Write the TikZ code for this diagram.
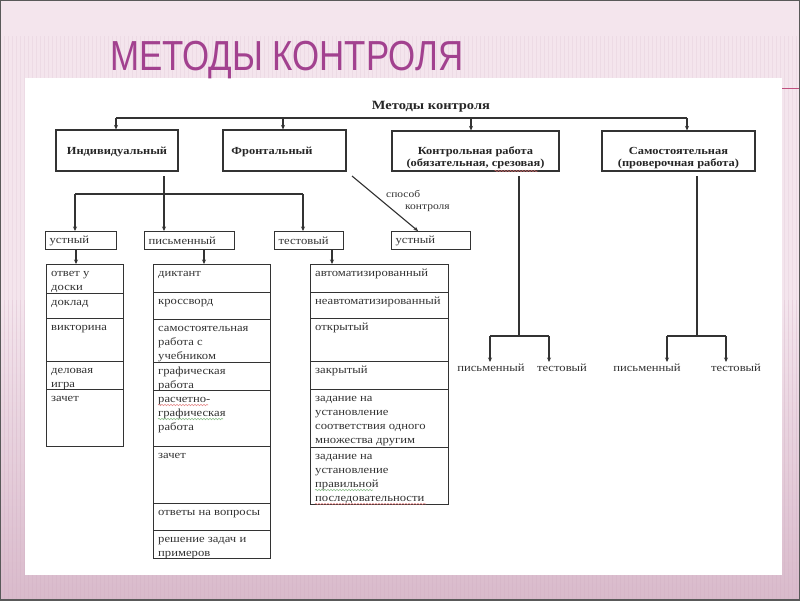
\documentclass[tikz,border=0pt]{standalone}
\usepackage{fontspec}
\setmainfont{Liberation Serif}
\newfontfamily\cellfont[FakeStretch=1.15]{Liberation Serif}
\newfontfamily\titlefont[FakeStretch=0.83]{Liberation Sans}
\usetikzlibrary{arrows.meta,decorations.pathmorphing}
\definecolor{bgpink}{HTML}{F4E5ED}
\definecolor{bandpink}{HTML}{D9BACB}
\definecolor{stripecol}{HTML}{D2AFC3}
\definecolor{titlecol}{HTML}{A2418F}
\definecolor{linecol}{HTML}{333333}
\definecolor{redline}{HTML}{C0507F}
\definecolor{spellred}{HTML}{E07070}
\definecolor{spellgreen}{HTML}{70B070}
\newcommand\mycell[6]{%
  \node[cell,minimum width=#4,minimum height=#5] (#1) at (#2,#3) {};
  \node[ctext] (#1t) at ([xshift=5pt,yshift=-2pt]#1.north west) {\strut #6};}
\begin{document}
\begin{tikzpicture}[x=1pt,y=-1pt,
  ln/.style={draw=linecol,line width=1.15pt},
  arr/.style={ln,-{Stealth[length=4.5pt,width=4pt]}},
  bigbox/.style={draw=linecol,line width=1.15pt,inner sep=0pt},
  btext/.style={font=\cellfont\bfseries\fontsize{10.8}{11.5}\selectfont,align=center,inner sep=0pt,text=black!85},
  sbox/.style={draw=linecol,line width=1.15pt,anchor=north west,minimum height=18pt,inner xsep=4pt,inner ysep=0pt,align=left,font=\cellfont\fontsize{11}{13}\selectfont,text=black!80},
  cell/.style={draw=linecol,line width=1.15pt,anchor=north west,inner sep=0pt},
  ctext/.style={anchor=north west,inner sep=0pt,align=left,font=\cellfont\fontsize{11}{14}\selectfont,text=black!80},
  ltext/.style={inner sep=2pt,font=\cellfont\fontsize{11}{14}\selectfont,text=black!80},
  spell/.style={line width=0.6pt,opacity=0.8,decorate,decoration={snake,amplitude=0.7pt,segment length=3pt}}
]
\useasboundingbox (0,0) rectangle (800,600);
% background
\fill[bgpink] (0,0) rectangle (800,600);
\shade[top color=bgpink,bottom color=bandpink] (0,300) rectangle (800,600);
\foreach \x in {0,4,...,800} {
  \draw[stripecol,opacity=0.18,line width=0.8pt] (\x,36) -- (\x,300);
  \draw[stripecol,opacity=0.35,line width=0.8pt] (\x,300) -- (\x,600);
}
\fill[white] (25,78) rectangle (782,575);
\draw[redline,line width=1pt] (782,88) -- (800,88);
\draw[gray!70!black,line width=1.2pt] (0,0) rectangle (800,600);
% title
\node[anchor=base west,inner sep=0pt,text=titlecol,font=\titlefont\fontsize{42}{42}\selectfont] (title) at (110,70) {МЕТОДЫ КОНТРОЛЯ};
% header
\node[inner sep=0pt,font=\cellfont\bfseries\fontsize{12.6}{13}\selectfont,text=black!85] (hdr) at (431,107) {Методы контроля};
% top boxes
\node[bigbox,minimum width=122pt,minimum height=41pt] (ind) at (117,150.5) {};
\node[bigbox,minimum width=123pt,minimum height=41pt] (fro) at (284.5,150.5) {};
\node[bigbox,minimum width=167pt,minimum height=40pt] (kon) at (475.5,151) {};
\node[bigbox,minimum width=153pt,minimum height=40pt] (sam) at (678.5,151) {};
\node[btext] (indt) at (117,152) {Индивидуальный};
\node[btext] (frot) at (272,152) {Фронтальный};
\node[btext] (kont) at (475.5,158) {Контрольная работа\\(обязательная, срезовая)};
\node[btext] (samt) at (678.5,158) {Самостоятельная\\(проверочная работа)};
\draw[spell,spellred] ([xshift=-50pt,yshift=-2pt]kont.south east) -- ([xshift=-7pt,yshift=-2pt]kont.south east);
% top connectors
\coordinate (t1) at (116,118);
\coordinate (t2) at (283,118);
\coordinate (t3) at (471,118);
\coordinate (t4) at (687,118);
\draw[ln] (t1) -- (t4);
\draw[arr] (t1) -- (t1 |- ind.north);
\draw[arr] (t2) -- (t2 |- fro.north);
\draw[arr] (t3) -- (t3 |- kon.north);
\draw[arr] (t4) -- (t4 |- sam.north);
% second row boxes
\node[sbox,minimum width=71pt,text width=63pt] (ust) at (45,231) {устный};
\node[sbox,minimum width=90pt,text width=82pt] (pis) at (144,231) {письменный};
\node[sbox,minimum width=69pt,text width=61pt] (tes) at (274,231) {тестовый};
\node[sbox,minimum width=79pt,text width=71pt] (ust2) at (391,231) {устный};
% individual connectors
\coordinate (i1) at (164,176);
\draw[arr] (i1) -- (i1 |- pis.north);
\coordinate (b1) at (75,194);
\coordinate (b2) at (303,194);
\draw[ln] (b1) -- (b2);
\draw[arr] (b1) -- (b1 |- ust.north);
\draw[arr] (b2) -- (b2 |- tes.north);
% frontal diagonal
\coordinate (d1) at (352,176);
\draw[arr] (d1) -- ([xshift=27pt]ust2.north west);
\node[ltext,anchor=west,font=\cellfont\fontsize{10}{12}\selectfont] (sp1) at (384,194) {способ};
\node[ltext,anchor=west,font=\cellfont\fontsize{10}{12}\selectfont] (sp2) at (403,208) {контроля};
% columns
\mycell{La}{46}{264}{77}{29}{ответ у\\доски}
\mycell{Lb}{46}{293}{77}{25}{доклад}
\mycell{Lc}{46}{318}{77}{43}{викторина}
\mycell{Ld}{46}{361}{77}{28}{деловая\\игра}
\mycell{Le}{46}{389}{77}{57}{зачет}
\mycell{Ma}{153}{264}{117}{28}{диктант}
\mycell{Mb}{153}{292}{117}{27}{кроссворд}
\mycell{Mc}{153}{319}{117}{43}{самостоятельная\\работа с\\учебником}
\mycell{Md}{153}{362}{117}{28}{графическая\\работа}
\mycell{Me}{153}{390}{117}{56}{расчетно-\\графическая\\работа}
\mycell{Mf}{153}{446}{117}{57}{зачет}
\mycell{Mg}{153}{503}{117}{27}{ответы на вопросы}
\mycell{Mh}{153}{530}{117}{28}{решение задач и\\примеров}
\mycell{Ra}{310}{264}{138}{28}{автоматизированный}
\mycell{Rb}{310}{292}{138}{26}{неавтоматизированный}
\mycell{Rc}{310}{318}{138}{43}{открытый}
\mycell{Rd}{310}{361}{138}{28}{закрытый}
\mycell{Re}{310}{389}{138}{58}{задание на\\установление\\соответствия одного\\множества другим}
\mycell{Rf}{310}{447}{138}{57}{задание на\\установление\\правильной\\последовательности}
% spelling marks
\draw[spell,spellred] ([xshift=5pt,yshift=-15pt]Me.north west) -- ([xshift=55pt,yshift=-15pt]Me.north west);
\draw[spell,spellgreen] ([xshift=5pt,yshift=-29pt]Me.north west) -- ([xshift=70pt,yshift=-29pt]Me.north west);
\draw[spell,spellgreen] ([xshift=5pt,yshift=-43pt]Rf.north west) -- ([xshift=63pt,yshift=-43pt]Rf.north west);
\draw[spell,spellred] ([xshift=5pt,yshift=-57pt]Rf.north west) -- ([xshift=116pt,yshift=-57pt]Rf.north west);
% box-to-column connectors
\coordinate (u1) at (76,249);
\coordinate (u2) at (204,249);
\coordinate (u3) at (332,249);
\draw[arr] (u1) -- (u1 |- La.north);
\draw[arr] (u2) -- (u2 |- Ma.north);
\draw[arr] (u3) -- (u3 |- Ra.north);
% right branches
\node[ltext] (p1) at (491,368) {письменный};
\node[ltext] (q1) at (562,368) {тестовый};
\node[ltext] (p2) at (647,368) {письменный};
\node[ltext] (q2) at (736,368) {тестовый};
\coordinate (kv) at (519,336);
\coordinate (ka) at (490,336);
\coordinate (kb) at (549,336);
\draw[ln] (kv |- 0,176) -- (kv);
\draw[ln] (ka) -- (kb);
\draw[arr] (ka) -- (ka |- p1.north);
\draw[arr] (kb) -- (kb |- q1.north);
\coordinate (sv) at (697,336);
\coordinate (sa) at (667,336);
\coordinate (sb) at (726,336);
\draw[ln] (sv |- 0,176) -- (sv);
\draw[ln] (sa) -- (sb);
\draw[arr] (sa) -- (sa |- p2.north);
\draw[arr] (sb) -- (sb |- q2.north);
\end{tikzpicture}
\end{document}
